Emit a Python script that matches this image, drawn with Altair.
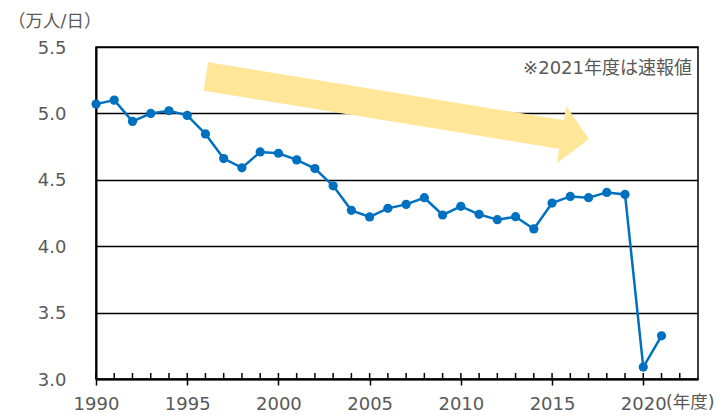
import altair as alt
import pandas as pd

years = list(range(1990, 2022))
values = [5.07, 5.10, 4.94, 5.00, 5.02, 4.985, 4.845, 4.66, 4.59, 4.71,
          4.70, 4.65, 4.585, 4.455, 4.27, 4.22, 4.285, 4.315, 4.365, 4.235,
          4.30, 4.24, 4.20, 4.222, 4.13, 4.325, 4.375, 4.365, 4.405, 4.39,
          3.09, 3.325]
tick_years = list(range(1990, 2023))
label_years = [1990, 1995, 2000, 2005, 2010, 2015, 2020]
y_ticks = [3.0, 3.5, 4.0, 4.5, 5.0, 5.5]

# trend arrow annotation (in data units)
arrow_shaft = {"x": [1996.02], "y": [5.278], "x2": [2015.56], "y2": [4.840]}
arrow_head = {"x": [2016.27], "y": [4.824]}

note_text = "※2021年度は速報値"
y_unit = "（万人/日）"
x_unit = "(年度)"

W, H = 602, 332
GRAY = "#595959"
BLUE = "#0070C0"
YELLOW = "#FFE699"
JP = "DejaVu Sans, Noto Sans CJK JP"

df = pd.DataFrame({"year": years, "value": values})
ticks_df = pd.DataFrame({"year": tick_years})

xscale = alt.Scale(domain=[1990, 2023], nice=False, zero=False)
yscale = alt.Scale(domain=[3.0, 5.5], nice=False, zero=False)

x_axis = alt.Axis(
    values=label_years, format="d",
    tickSize=6, tickColor="black", tickWidth=1.5,
    domainColor="black", domainWidth=2,
    labelColor=GRAY, labelFontSize=18, labelPadding=10, labelOverlap=False,
    labelFlush=False, grid=False, title=None,
)
y_axis = alt.Axis(
    values=y_ticks, format=".1f", ticks=False, labelPadding=30,
    labelColor=GRAY, labelFontSize=18, labelOffset=1, labelFlush=False,
    domainColor="black", domainWidth=2,
    grid=True, gridColor="black", gridWidth=1.5, title=None,
)

base = alt.Chart(df)

line = base.mark_line(color=BLUE, strokeWidth=2.5).encode(
    x=alt.X("year:Q", scale=xscale, axis=x_axis),
    y=alt.Y("value:Q", scale=yscale, axis=y_axis),
)
points = base.mark_point(filled=True, color=BLUE, size=85, opacity=1).encode(
    x=alt.X("year:Q", scale=xscale),
    y=alt.Y("value:Q", scale=yscale),
)

inner_ticks = alt.Chart(ticks_df).mark_rule(color="black", strokeWidth=1.5).encode(
    x=alt.X("year:Q", scale=xscale),
    y=alt.value(H),
    y2=alt.value(H - 6),
)

shaft = alt.Chart(pd.DataFrame(arrow_shaft)).mark_rule(
    color=YELLOW, strokeWidth=29, strokeCap="butt"
).encode(
    x=alt.X("x:Q", scale=xscale), y=alt.Y("y:Q", scale=yscale),
    x2="x2:Q", y2="y2:Q",
)
head = alt.Chart(pd.DataFrame(arrow_head)).mark_point(
    shape="M-0.48,-1L0.48,0L-0.48,1Z", filled=True, color=YELLOW,
    opacity=1, size=3364, angle=9.25,
).encode(
    x=alt.X("x:Q", scale=xscale), y=alt.Y("y:Q", scale=yscale),
)

note = alt.Chart(pd.DataFrame({"t": [note_text]})).mark_text(
    align="right", baseline="alphabetic", fontSize=18, font=JP, color=GRAY
).encode(x=alt.value(596), y=alt.value(27), text="t:N")

yunit = alt.Chart(pd.DataFrame({"t": [y_unit]})).mark_text(
    align="left", baseline="alphabetic", fontSize=17.5, font=JP, color=GRAY
).encode(x=alt.value(-88), y=alt.value(-20), text="t:N")

xunit = alt.Chart(pd.DataFrame({"t": [x_unit]})).mark_text(
    align="left", baseline="alphabetic", fontSize=17.5, font=JP, color=GRAY
).encode(x=alt.value(570), y=alt.value(361), text="t:N")

chart = alt.layer(
    shaft, head, inner_ticks, line, points, note, yunit, xunit
).properties(
    width=W, height=H,
    autosize=alt.AutoSizeParams(type="none"),
    padding={"left": 88, "top": 39, "right": 19, "bottom": 34},
).configure(
    font="DejaVu Sans",
).configure_view(
    stroke="black", strokeWidth=1.5,
)

chart.save("out.html", embed_options={"renderer": "svg", "actions": False})
